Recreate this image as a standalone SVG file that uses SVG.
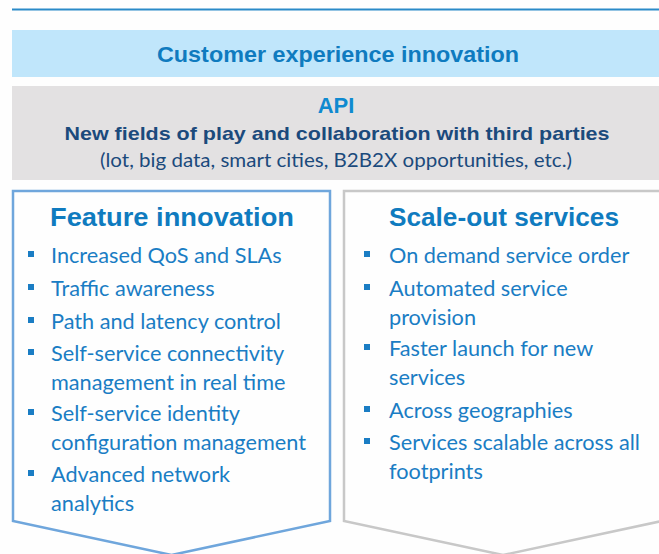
<svg xmlns="http://www.w3.org/2000/svg" width="659" height="554" viewBox="0 0 659 554">
<style>
text{font-family:Lato,"Open Sans","Liberation Sans",sans-serif}
.h{font-family:"Liberation Sans",Arial,sans-serif;font-weight:bold;fill:#0f7bbf;text-anchor:middle}
.nv{fill:#1b4a7c;text-anchor:middle}
.b{fill:#1a7dc4;font-size:21.7px}
.sq{fill:#1a7dc4}
</style>
<rect width="659" height="554" fill="#fefefe"/>
<line x1="12" y1="9.5" x2="659" y2="9.5" stroke="#2a8ac8" stroke-width="2"/>
<g id="customer">
<rect x="12" y="30" width="647" height="47" fill="#c0e6fb"/>
<text class="h" x="338" y="62" font-size="22" textLength="362" lengthAdjust="spacingAndGlyphs">Customer experience innovation</text>
</g>
<g id="api">
<rect x="12" y="86" width="647" height="94" fill="#e3e1e2"/>
<text class="h" x="336" y="113" font-size="22" style="fill:#0f8ad0">API</text>
<text class="nv" x="337" y="140" font-size="19" font-weight="bold" style="font-family:'Liberation Sans',Arial,sans-serif" textLength="545" lengthAdjust="spacingAndGlyphs">New fields of play and collaboration with third parties</text>
<text class="nv" x="336" y="167" font-size="20" textLength="472" lengthAdjust="spacingAndGlyphs">(lot, big data, smart cities, B2B2X opportunities, etc.)</text>
</g>
<g id="feature">
<path d="M13 191 H330 V521 L171.5 555 L13 521 Z" fill="#fefefe" stroke="#6fa6dc" stroke-width="2.5"/>
<text class="h" x="172" y="226" font-size="25" textLength="244" lengthAdjust="spacingAndGlyphs">Feature innovation</text>
<g class="sq">
<rect x="28" y="251" width="6" height="6"/>
<rect x="28" y="284" width="6" height="6"/>
<rect x="28" y="317" width="6" height="6"/>
<rect x="28" y="349" width="6" height="6"/>
<rect x="28" y="409" width="6" height="6"/>
<rect x="28" y="470" width="6" height="6"/>
</g>
<text class="b" x="51" y="263">Increased QoS and SLAs</text>
<text class="b" x="51" y="296">Traffic awareness</text>
<text class="b" x="51" y="329">Path and latency control</text>
<text class="b" x="51" y="361">Self-service connectivity</text>
<text class="b" x="51" y="390">management in real time</text>
<text class="b" x="51" y="421">Self-service identity</text>
<text class="b" x="51" y="450">configuration management</text>
<text class="b" x="51" y="482">Advanced network</text>
<text class="b" x="51" y="511">analytics</text>
</g>
<g id="scaleout">
<path d="M344 191 H662 V521 L503 555 L344 521 Z" fill="#fefefe" stroke="#c8c8c8" stroke-width="2.5"/>
<text class="h" x="504" y="226" font-size="25" textLength="230" lengthAdjust="spacingAndGlyphs">Scale-out services</text>
<g class="sq">
<rect x="364" y="251" width="6" height="6"/>
<rect x="364" y="284" width="6" height="6"/>
<rect x="364" y="344" width="6" height="6"/>
<rect x="364" y="406" width="6" height="6"/>
<rect x="364" y="438" width="6" height="6"/>
</g>
<text class="b" x="389" y="263">On demand service order</text>
<text class="b" x="389" y="296">Automated service</text>
<text class="b" x="389" y="325">provision</text>
<text class="b" x="389" y="356">Faster launch for new</text>
<text class="b" x="389" y="385">services</text>
<text class="b" x="389" y="418">Across geographies</text>
<text class="b" x="389" y="450">Services scalable across all</text>
<text class="b" x="389" y="479">footprints</text>
</g>
</svg>
